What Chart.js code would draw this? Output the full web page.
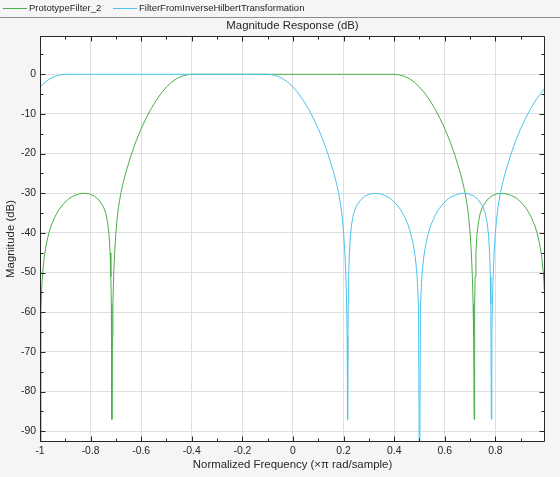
<!DOCTYPE html>
<html>
<head>
<meta charset="utf-8">
<title>Magnitude Response (dB)</title>
<script src="https://cdn.jsdelivr.net/npm/chart.js@4.4.1/dist/chart.umd.min.js"></script>
<style>
  html, body { margin: 0; padding: 0; background: #f5f5f5; }
  #wrap { position: relative; width: 560px; height: 477px; overflow: hidden; }
  #c { position: absolute; left: 0; top: 0; }
  #legend { position: absolute; left: 0; top: 0; width: 560px; height: 17px; border-bottom: 1px solid #8c8c8c;
            font: 9.5px "Liberation Sans", Arial, sans-serif; color: #262626; z-index: 2; }
  .item { position: absolute; top: 0; height: 17px; line-height: 15px; white-space: nowrap; }
  .item i { display: inline-block; width: 24px; height: 1px; vertical-align: middle; margin-right: 2px; }
</style>
</head>
<body>
<div id="wrap">
  <div id="legend">
    <span class="item" style="left:3px"><i style="background:#4cae4c"></i>PrototypeFilter_2</span>
    <span class="item" style="left:113px"><i style="background:#4ec3ee"></i>FilterFromInverseHilbertTransformation</span>
  </div>
  <canvas id="c" width="560" height="477"></canvas>
</div>
<script>
"use strict";

/*----------------------------------------*/
/*  data
/*----------------------------------------*/
const seriesNames = ["PrototypeFilter_2", "FilterFromInverseHilbertTransformation"];

// normalized frequency (x pi rad/sample) and magnitude (dB), PrototypeFilter_2
const freqProto = [
  -1, -0.9961, -0.992, -0.988, -0.983, -0.975, -0.965, -0.955, -0.94, -0.925,
  -0.905, -0.885, -0.865, -0.845, -0.825, -0.805, -0.785, -0.767, -0.75, -0.74,
  -0.733, -0.727, -0.723, -0.72, -0.718, -0.716, -0.714, -0.712, -0.709, -0.705,
  -0.7, -0.695, -0.69, -0.68, -0.67, -0.66, -0.64, -0.62, -0.6, -0.58,
  -0.56, -0.54, -0.52, -0.5, -0.48, -0.46, -0.44, -0.42, -0.4, -0.3,
  -0.2, -0.1, 0, 0.1, 0.2, 0.3, 0.4, 0.42, 0.44, 0.46,
  0.48, 0.5, 0.52, 0.54, 0.56, 0.58, 0.6, 0.62, 0.64, 0.66,
  0.67, 0.68, 0.69, 0.695, 0.7, 0.705, 0.709, 0.712, 0.714, 0.716,
  0.718, 0.72, 0.723, 0.727, 0.733, 0.74, 0.75, 0.767, 0.785, 0.805,
  0.825, 0.845, 0.865, 0.885, 0.905, 0.925, 0.94, 0.955, 0.965, 0.975,
  0.983, 0.988, 0.992, 0.9961
];
const magProto = [
  -110, -59, -52.5, -49, -46, -42.8, -40, -38, -35.8, -34.1,
  -32.5, -31.3, -30.6, -30.15, -30, -30.15, -30.7, -31.7, -33.3, -35,
  -37.3, -40.5, -45, -51, -58, -87, -66, -58, -51, -45,
  -40, -36.4, -33.6, -29.8, -27, -24.6, -20.4, -16.8, -13.7, -11,
  -8.6, -6.5, -4.7, -3.2, -2, -1.1, -0.5, -0.15, 0, 0,
  0, 0, 0, 0, 0, 0, 0, -0.15, -0.5, -1.1,
  -2, -3.2, -4.7, -6.5, -8.6, -11, -13.7, -16.8, -20.4, -24.6,
  -27, -29.8, -33.6, -36.4, -40, -45, -51, -58, -66, -87,
  -58, -51, -45, -40.5, -37.3, -35, -33.3, -31.7, -30.7, -30.15,
  -30, -30.15, -30.6, -31.3, -32.5, -34.1, -35.8, -38, -40, -42.8,
  -46, -49, -52.5, -59
];

// FilterFromInverseHilbertTransformation
const freqHilbert = [
  -1, -0.98, -0.96, -0.94, -0.92, -0.9, -0.8, -0.7, -0.6, -0.5,
  -0.4, -0.3, -0.2, -0.1, -0.08, -0.06, -0.04, -0.02, 0, 0.02,
  0.04, 0.06, 0.08, 0.1, 0.12, 0.14, 0.16, 0.17, 0.18, 0.19,
  0.195, 0.2, 0.205, 0.209, 0.212, 0.214, 0.216, 0.218, 0.22, 0.223,
  0.227, 0.233, 0.24, 0.25, 0.267, 0.285, 0.305, 0.325, 0.345, 0.365,
  0.385, 0.405, 0.425, 0.44, 0.455, 0.465, 0.475, 0.483, 0.488, 0.492,
  0.4961, 0.5, 0.5039, 0.508, 0.512, 0.517, 0.525, 0.535, 0.545, 0.56,
  0.575, 0.595, 0.615, 0.635, 0.655, 0.675, 0.695, 0.715, 0.733, 0.75,
  0.76, 0.767, 0.773, 0.777, 0.78, 0.782, 0.784, 0.786, 0.788, 0.791,
  0.795, 0.8, 0.805, 0.81, 0.82, 0.83, 0.84, 0.86, 0.88, 0.9,
  0.92, 0.94, 0.96, 0.98, 0.9961
];
const magHilbert = [
  -3.2, -2, -1.1, -0.5, -0.15, 0, 0, 0, 0, 0,
  0, 0, 0, 0, -0.15, -0.5, -1.1, -2, -3.2, -4.7,
  -6.5, -8.6, -11, -13.7, -16.8, -20.4, -24.6, -27, -29.8, -33.6,
  -36.4, -40, -45, -51, -58, -66, -87, -58, -51, -45,
  -40.5, -37.3, -35, -33.3, -31.7, -30.7, -30.15, -30, -30.15, -30.6,
  -31.3, -32.5, -34.1, -35.8, -38, -40, -42.8, -46, -49, -52.5,
  -59, -110, -59, -52.5, -49, -46, -42.8, -40, -38, -35.8,
  -34.1, -32.5, -31.3, -30.6, -30.15, -30, -30.15, -30.7, -31.7, -33.3,
  -35, -37.3, -40.5, -45, -51, -58, -87, -66, -58, -51,
  -45, -40, -36.4, -33.6, -29.8, -27, -24.6, -20.4, -16.8, -13.7,
  -11, -8.6, -6.5, -4.7, -3.4
];

// tick labels
const xTicks = [-1, -0.8, -0.6, -0.4, -0.2, 0, 0.2, 0.4, 0.6, 0.8];
const xMinorTicks = [-0.9, -0.7, -0.5, -0.3, -0.1, 0.1, 0.3, 0.5, 0.7, 0.9];
const yTicks = [-90, -80, -70, -60, -50, -40, -30, -20, -10, 0];
const yMinorTicks = [-85, -75, -65, -55, -45, -35, -25, -15, -5, 5];

/*----------------------------------------*/
/*  chart
/*----------------------------------------*/
const fontFamily = '"Liberation Sans", Arial, Helvetica, sans-serif';
const textColor = '#262626';
const gridColor = '#dfdfdf';

function toPoints(xs, ys) {
  return xs.map((x, i) => ({ x: x, y: ys[i] }));
}

// white plot area, then box with inward MATLAB-style ticks
const axesBox = {
  id: 'axesBox',
  beforeDraw(chart) {
    const { ctx, chartArea: a } = chart;
    ctx.save();
    ctx.fillStyle = '#ffffff';
    ctx.fillRect(a.left, a.top, a.right - a.left, a.bottom - a.top);
    ctx.restore();
  },
  afterDraw(chart) {
    const { ctx, chartArea: a, scales } = chart;
    const L = Math.round(a.left) + 0.5, R = Math.round(a.right) - 0.5;
    const T = Math.round(a.top) + 0.5, B = Math.round(a.bottom) - 0.5;
    ctx.save();
    ctx.strokeStyle = textColor;
    ctx.lineWidth = 1;
    ctx.beginPath();
    const vTick = (v, len) => {
      const px = Math.round(scales.x.getPixelForValue(v)) + 0.5;
      ctx.moveTo(px, B); ctx.lineTo(px, B - len);
      ctx.moveTo(px, T); ctx.lineTo(px, T + len);
    };
    const hTick = (v, len) => {
      const py = Math.round(scales.y.getPixelForValue(v)) + 0.5;
      ctx.moveTo(L, py); ctx.lineTo(L + len, py);
      ctx.moveTo(R, py); ctx.lineTo(R - len, py);
    };
    xTicks.forEach(v => vTick(v, 5));
    xMinorTicks.forEach(v => vTick(v, 3));
    yTicks.forEach(v => hTick(v, 5));
    yMinorTicks.forEach(v => hTick(v, 3));
    ctx.rect(L, T, R - L, B - T);
    ctx.stroke();
    ctx.restore();
  }
};

new Chart(document.getElementById('c'), {
  type: 'line',
  data: {
    datasets: [{
      label: seriesNames[0],
      data: toPoints(freqProto, magProto),
      borderColor: '#4cae4c',
      borderWidth: 1,
      pointRadius: 0,
      tension: 0,
      order: 1
    }, {
      label: seriesNames[1],
      data: toPoints(freqHilbert, magHilbert),
      borderColor: '#4ec3ee',
      borderWidth: 1,
      pointRadius: 0,
      tension: 0,
      order: 0
    }]
  },
  options: {
    responsive: false,
    animation: false,
    events: [],
    layout: { padding: { left: 0, right: 15, top: 0, bottom: 0 } },
    plugins: {
      legend: { display: false },
      tooltip: { enabled: false },
      title: {
        display: true,
        fullSize: false,
        text: 'Magnitude Response (dB)',
        color: textColor,
        font: { family: fontFamily, size: 11.4, weight: 'normal', lineHeight: 1.2 },
        padding: { top: 19, bottom: 3.3 }
      }
    },
    scales: {
      x: {
        type: 'linear',
        min: -1,
        max: 0.9961,
        afterBuildTicks: s => { s.ticks = xTicks.map(v => ({ value: v })); },
        afterFit: s => { s.height = 35; },
        grid: { color: gridColor, drawTicks: false },
        border: { display: false },
        ticks: {
          color: textColor,
          padding: 2.5,
          maxRotation: 0,
          font: { family: fontFamily, size: 10.4 },
          callback: v => String(Math.round(v * 10) / 10)
        },
        title: {
          display: true,
          text: 'Normalized Frequency (\u00d7\u03c0 rad/sample)',
          color: textColor,
          font: { family: fontFamily, size: 11.4, lineHeight: 1.2 },
          padding: { top: 0, bottom: 5.5 }
        }
      },
      y: {
        type: 'linear',
        min: -92.7,
        max: 9.66,
        afterBuildTicks: s => { s.ticks = yTicks.map(v => ({ value: v })); },
        afterFit: s => { s.width = 40; },
        grid: { color: gridColor, drawTicks: false },
        border: { display: false },
        ticks: {
          color: textColor,
          padding: 4,
          font: { family: fontFamily, size: 10.4 },
          callback: v => String(v)
        },
        title: {
          display: true,
          text: 'Magnitude (dB)',
          color: textColor,
          font: { family: fontFamily, size: 11.4, lineHeight: 1.2 },
          padding: { top: 4, bottom: 0 }
        }
      }
    }
  },
  plugins: [axesBox]
});
</script>
</body>
</html>
